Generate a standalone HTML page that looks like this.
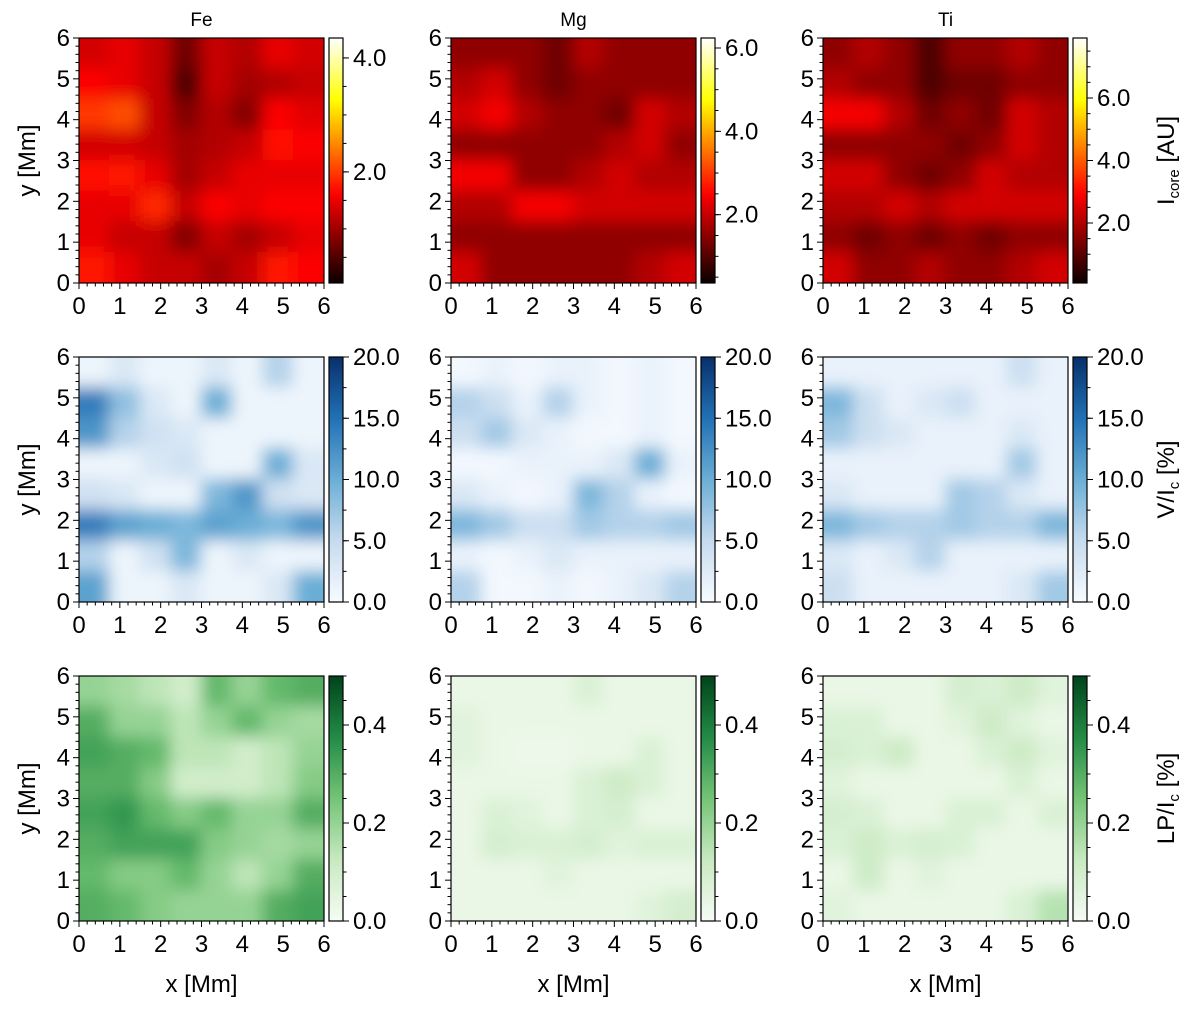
<!DOCTYPE html>
<html><head><meta charset="utf-8"><style>
html,body{margin:0;padding:0;background:#fff;}
svg text{font-family:"Liberation Sans",sans-serif;fill:#000;}
</style></head><body>
<svg id="fig" width="1200" height="1012" xmlns="http://www.w3.org/2000/svg">
<defs>
<filter id="blur" x="-20%" y="-20%" width="140%" height="140%"><feGaussianBlur stdDeviation="8"/></filter>
</defs>
</svg>
<script>
// ---- data (normalized intensity per 0.75 Mm cell, top row = y 6) ----
const elements = ["Fe","Mg","Ti"];
const colLefts = [79, 451, 823];
const rowTops = [38, 357, 676];
const xTicks = [0,1,2,3,4,5,6];
const yTicks = [0,1,2,3,4,5,6];
const cbRangesRow1 = [[0.05,4.35],[0.36,6.24],[0.08,7.92]];
const cbTicksRow1 = [[2.0,4.0],[2.0,4.0,6.0],[2.0,4.0,6.0]];
const cbRangeRow2 = [0,20];
const cbTicksRow2 = [0,5,10,15,20];
const cbRangeRow3 = [0,0.5];
const cbTicksRow3 = [0,0.2,0.4];
const cbLabels = ["I<sub>core</sub> [AU]","V/I<sub>c</sub> [%]","LP/I<sub>c</sub> [%]"];

const hotFe = [[0.3,0.33,0.28,0.15,0.28,0.25,0.33,0.3],[0.36,0.33,0.28,0.1,0.28,0.23,0.25,0.28],[0.45,0.48,0.28,0.18,0.25,0.18,0.36,0.32],[0.3,0.3,0.28,0.23,0.25,0.28,0.38,0.36],[0.38,0.4,0.33,0.23,0.28,0.33,0.33,0.33],[0.33,0.33,0.42,0.28,0.36,0.33,0.36,0.36],[0.33,0.28,0.28,0.18,0.28,0.23,0.28,0.33],[0.4,0.33,0.28,0.28,0.23,0.28,0.4,0.36]];
const hotMg = [[0.2,0.2,0.2,0.15,0.25,0.2,0.2,0.2],[0.25,0.3,0.2,0.15,0.2,0.2,0.2,0.2],[0.3,0.35,0.25,0.2,0.2,0.15,0.3,0.25],[0.2,0.2,0.2,0.2,0.2,0.25,0.3,0.2],[0.35,0.35,0.2,0.2,0.25,0.3,0.25,0.25],[0.25,0.25,0.35,0.35,0.3,0.3,0.3,0.3],[0.2,0.2,0.2,0.2,0.2,0.2,0.2,0.2],[0.3,0.2,0.2,0.2,0.2,0.2,0.25,0.3]];
const hotTi = [[0.2,0.25,0.2,0.1,0.2,0.2,0.25,0.2],[0.25,0.2,0.2,0.1,0.15,0.15,0.2,0.2],[0.35,0.35,0.25,0.15,0.2,0.15,0.3,0.25],[0.2,0.2,0.2,0.2,0.15,0.2,0.3,0.25],[0.3,0.3,0.2,0.15,0.2,0.3,0.25,0.25],[0.25,0.25,0.3,0.25,0.3,0.3,0.3,0.3],[0.2,0.15,0.2,0.15,0.2,0.15,0.2,0.2],[0.3,0.2,0.2,0.25,0.2,0.2,0.25,0.3]];
const blueFe = [[0.05,0.15,0.05,0.05,0.15,0.05,0.3,0.05],[0.7,0.4,0.15,0.05,0.5,0.05,0.05,0.05],[0.6,0.3,0.2,0.15,0.05,0.05,0.05,0.05],[0.05,0.05,0.15,0.2,0.05,0.05,0.5,0.15],[0.2,0.15,0.05,0.05,0.45,0.6,0.2,0.15],[0.7,0.55,0.5,0.45,0.55,0.5,0.45,0.6],[0.3,0.05,0.2,0.45,0.05,0.15,0.05,0.05],[0.55,0.05,0.05,0.15,0.05,0.05,0.15,0.5]];
const blueMg = [[0.02,0.07,0.02,0.07,0.07,0.02,0.07,0.02],[0.3,0.22,0.07,0.3,0.07,0.02,0.07,0.02],[0.22,0.35,0.15,0.07,0.02,0.02,0.07,0.02],[0.02,0.02,0.07,0.07,0.07,0.15,0.5,0.07],[0.15,0.07,0.02,0.07,0.45,0.3,0.07,0.02],[0.45,0.35,0.22,0.22,0.35,0.3,0.3,0.35],[0.07,0.02,0.07,0.15,0.07,0.07,0.07,0.07],[0.3,0.02,0.02,0.07,0.02,0.07,0.15,0.3]];
const blueTi = [[0.07,0.07,0.07,0.07,0.07,0.07,0.22,0.07],[0.45,0.22,0.07,0.15,0.22,0.07,0.07,0.07],[0.35,0.22,0.15,0.07,0.07,0.07,0.15,0.07],[0.07,0.07,0.07,0.07,0.07,0.07,0.35,0.07],[0.15,0.07,0.07,0.07,0.35,0.3,0.15,0.07],[0.45,0.35,0.3,0.3,0.35,0.3,0.3,0.45],[0.15,0.07,0.15,0.3,0.07,0.07,0.07,0.07],[0.22,0.07,0.07,0.07,0.07,0.07,0.15,0.35]];
const greenFe = [[0.4,0.35,0.28,0.2,0.55,0.4,0.55,0.6],[0.6,0.4,0.4,0.28,0.4,0.55,0.4,0.35],[0.65,0.6,0.55,0.28,0.28,0.2,0.28,0.4],[0.6,0.6,0.45,0.2,0.2,0.2,0.28,0.45],[0.65,0.7,0.55,0.45,0.55,0.4,0.4,0.6],[0.6,0.65,0.65,0.65,0.45,0.4,0.35,0.4],[0.55,0.45,0.45,0.55,0.4,0.28,0.4,0.6],[0.6,0.55,0.45,0.4,0.4,0.4,0.6,0.65]];
const greenMg = [[0.07,0.07,0.07,0.07,0.15,0.07,0.07,0.07],[0.12,0.07,0.07,0.07,0.07,0.07,0.07,0.07],[0.12,0.07,0.05,0.05,0.07,0.07,0.15,0.07],[0.07,0.07,0.07,0.07,0.15,0.22,0.15,0.07],[0.07,0.15,0.12,0.07,0.15,0.18,0.07,0.07],[0.07,0.18,0.15,0.15,0.18,0.12,0.15,0.15],[0.07,0.07,0.07,0.12,0.07,0.07,0.07,0.07],[0.07,0.07,0.07,0.07,0.07,0.07,0.12,0.18]];
const greenTi = [[0.07,0.07,0.07,0.07,0.18,0.15,0.22,0.12],[0.15,0.15,0.07,0.07,0.12,0.22,0.12,0.07],[0.18,0.15,0.22,0.07,0.07,0.15,0.22,0.12],[0.12,0.07,0.07,0.07,0.07,0.07,0.15,0.07],[0.18,0.15,0.07,0.07,0.15,0.15,0.07,0.15],[0.15,0.22,0.15,0.18,0.15,0.07,0.07,0.07],[0.07,0.22,0.07,0.12,0.07,0.07,0.07,0.07],[0.12,0.07,0.07,0.07,0.07,0.07,0.15,0.3]];

const grids = [[hotFe,hotMg,hotTi],[blueFe,blueMg,blueTi],[greenFe,greenMg,greenTi]];

// ---- colormaps ----
const cmHot = [[0,[10,0,0]],[0.365,[255,0,0]],[0.746,[255,255,0]],[1,[255,255,255]]];
const cmBlues = [[0,[247,251,255]],[0.25,[198,219,239]],[0.5,[107,174,214]],[0.75,[33,113,181]],[1,[8,48,107]]];
const cmGreens = [[0,[247,252,245]],[0.25,[199,233,192]],[0.5,[116,196,118]],[0.75,[35,139,69]],[1,[0,68,27]]];
const cmaps=[cmHot,cmBlues,cmGreens];
function cmap(cm,t){t=Math.max(0,Math.min(1,t));for(let i=1;i<cm.length;i++){if(t<=cm[i][0]){const a=cm[i-1],b=cm[i];const f=(t-a[0])/(b[0]-a[0]);const c=a[1].map((v,k)=>Math.round(v+(b[1][k]-v)*f));return `rgb(${c[0]},${c[1]},${c[2]})`;}}const c=cm[cm.length-1][1];return `rgb(${c[0]},${c[1]},${c[2]})`;}

const NS="http://www.w3.org/2000/svg";
const svg=document.getElementById('fig');
const defs=svg.querySelector('defs');
function mk(tag,attrs,parent){const e=document.createElementNS(NS,tag);for(const k in attrs)e.setAttribute(k,attrs[k]);(parent||svg).appendChild(e);return e;}
const W=245,H=245,CBX=5,CBW=14;
const fmt1=v=>v.toFixed(1);
const clampI=(i,n)=>Math.max(0,Math.min(n-1,i));

for(let r=0;r<3;r++){for(let c=0;c<3;c++){
  const x0=colLefts[c], y0=rowTops[r];
  const xs=v=>x0+v/6*W, ys=v=>y0+H-v/6*H;
  const g=mk('g',{});
  
  
  const cp=mk('clipPath',{id:`cp${r}${c}`},defs);
  mk('rect',{x:x0,y:y0,width:W,height:H},cp);
  const clipG=mk('g',{'clip-path':`url(#cp${r}${c})`},g);
  const hm=mk('g',{filter:'url(#blur)'},clipG);
  
  
  const grid=grids[r][c], n=grid.length;
  for(let i=-2;i<n+2;i++)for(let j=-2;j<n+2;j++){
    const yTop=6-i*6/n, xL=j*6/n;
    const cell=mk('rect',{x:xs(xL)-0.5,y:ys(yTop)-0.5,width:W/n+1,height:H/n+1,fill:cmap(cmaps[r],grid[clampI(i,n)][clampI(j,n)])},hm);
    
    
  }
  mk('rect',{x:x0,y:y0,width:W,height:H,fill:'none',stroke:'#000','stroke-width':1.2},g);
  for(let k=0;k<=30;k++){const v=k*0.2;const major=k%5===0;mk('line',{x1:xs(v),x2:xs(v),y1:y0+H,y2:y0+H+(major?6:3.5),stroke:'#000','stroke-width':1},g);mk('line',{y1:ys(v),y2:ys(v),x1:x0,x2:x0-(major?6:3.5),stroke:'#000','stroke-width':1},g);}
  xTicks.forEach(v=>{const t=mk('text',{x:xs(v),y:y0+H+31,'font-size':24,'text-anchor':'middle'},g);t.textContent=v;});
  yTicks.forEach(v=>{const t=mk('text',{x:x0-9,y:ys(v)+8,'font-size':24,'text-anchor':'end'},g);t.textContent=v;});
  const cbx=x0+W+CBX;
  const gid=`gr${r}${c}`;
  const lg=mk('linearGradient',{id:gid,x1:0,y1:1,x2:0,y2:0},defs);
  for(let k=0;k<=20;k++)mk('stop',{offset:k/20,'stop-color':cmap(cmaps[r],k/20)},lg);
  const cb=mk('g',{},g);
  
  
  mk('rect',{x:cbx,y:y0,width:CBW,height:H,fill:`url(#${gid})`,stroke:'#000','stroke-width':1.2},cb);
  let rng,ticks,minor;
  if(r===0){rng=cbRangesRow1[c];ticks=cbTicksRow1[c];minor=0.5;}
  else if(r===1){rng=cbRangeRow2;ticks=cbTicksRow2;minor=2.5;}
  else {rng=cbRangeRow3;ticks=cbTicksRow3;minor=0.05;}
  const cy=v=>y0+H-(v-rng[0])/(rng[1]-rng[0])*H;
  for(let v=Math.ceil(rng[0]/minor-1e-6)*minor;v<=rng[1]+1e-9;v+=minor){mk('line',{x1:cbx+CBW,x2:cbx+CBW+3.5,y1:cy(v),y2:cy(v),stroke:'#000','stroke-width':1},cb);}
  ticks.forEach(v=>{mk('line',{x1:cbx+CBW,x2:cbx+CBW+6,y1:cy(v),y2:cy(v),stroke:'#000','stroke-width':1},cb);const t=mk('text',{x:cbx+CBW+10,y:cy(v)+8,'font-size':24},cb);t.textContent=fmt1(v);});
  if(c===0){const t=mk('text',{x:35,y:y0+H/2,'font-size':24,'text-anchor':'middle',transform:`rotate(-90 35 ${y0+H/2})`},g);t.textContent='y [Mm]';}
  if(r===2){const t=mk('text',{x:x0+W/2,y:992,'font-size':24,'text-anchor':'middle'},g);t.textContent='x [Mm]';}
  if(r===0){const t=mk('text',{x:x0+W/2,y:26,'font-size':19,'text-anchor':'middle'},g);t.textContent=elements[c];}
  if(c===2){const lx=1174, ly=y0+H/2;const t=mk('text',{x:lx,y:ly,'font-size':24,'text-anchor':'middle',transform:`rotate(-90 ${lx} ${ly})`},g);
    const parts=cbLabels[r].split(/<sub>|<\/sub>/);
    parts.forEach((p,k)=>{const ts=mk('tspan',k===1?{'font-size':15,dy:5}:(k===2?{dy:-5}:{}),t);ts.textContent=p;});
    }
}}
</script>
</body></html>
